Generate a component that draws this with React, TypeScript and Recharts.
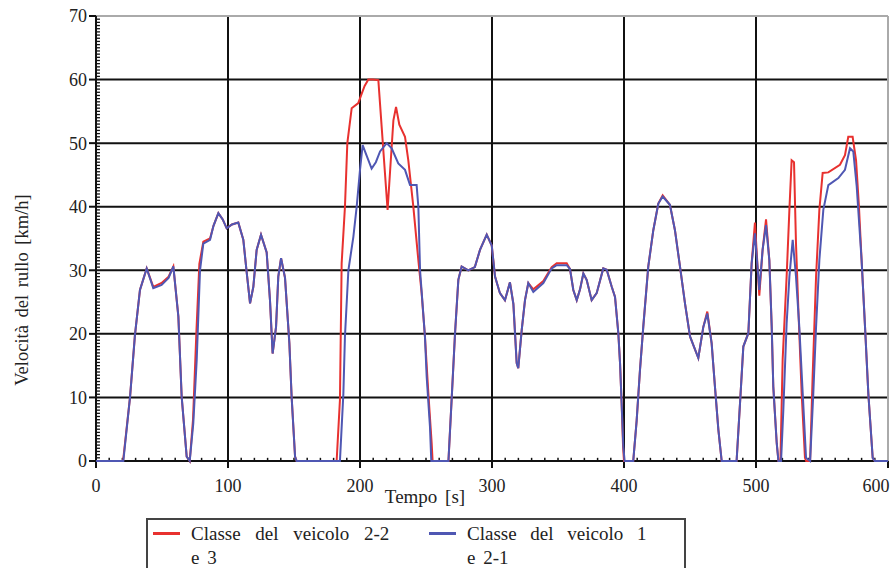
import React from "react";
import { LineChart, Line, XAxis, YAxis, CartesianGrid, ReferenceLine } from "recharts";

// Classe del veicolo 2-2 e 3 (rosso)
const tempoRosso = [
  0, 20.5, 25.8, 29.5, 33.3, 38.4, 43.4, 49.7, 55, 58.6, 62.4, 64.9, 68.7, 71,
  73.5, 76, 78.3, 81.3, 86.4, 89, 92.7, 96, 99, 103, 107.8, 111.6, 114, 116.7,
  119.2, 121.7, 125, 129.3, 131.8, 133.8, 136.4, 138.1, 140.2, 143.2, 146.5,
  148.2, 150.8, 152, 182.3, 184.8, 186.1, 188.6, 190.4, 193.7, 198.7, 201.3,
  203.5, 206.3, 210, 213.9, 216.4, 218.9, 220.9, 222.7, 225.3, 227.3, 229.8,
  234.1, 236.6, 240.4, 244.2, 246.7, 249.2, 251.8, 254.3, 255, 267, 269.4, 272,
  274.5, 277, 282, 287, 290.9, 296, 299.8, 302.3, 306, 309.8, 313.6, 316.2,
  318.7, 319.9, 322.5, 325, 327.5, 331.3, 338.9, 345.2, 349, 356.6, 359.1,
  361.6, 364.2, 366.7, 369.2, 371.7, 375.5, 379.3, 384.3, 386.9, 390.7, 393.2,
  395.7, 397, 398.2, 399.3, 400, 407, 409.6, 412.1, 414.6, 418.4, 422.2, 426,
  429.3, 434.8, 438.6, 442.4, 446.2, 450, 456.3, 460.1, 463.1, 466.4, 468.9,
  471.5, 474, 485.3, 487.9, 490.4, 494.2, 496.7, 499.2, 502.5, 505, 507.6,
  510.1, 511.9, 513.1, 515.7, 517, 518.5, 520.2, 523.2, 525.3, 527, 528.8,
  530.3, 532.1, 534.6, 537.1, 538, 541, 542.9, 545.5, 548, 550.5, 554.8, 563.6,
  567.4, 569.9, 573.2, 575.8, 578, 580, 582.6, 585.1, 588.4, 590, 600,
];
const velRosso = [
  0, 0, 10.1, 19.8, 26.9, 30.3, 27.4, 28, 29, 30.6, 22.7, 10.1, 0.7, 0, 6.5,
  20, 31, 34.5, 35, 37, 39, 38, 36.6, 37.2, 37.5, 34.8, 30, 24.8, 27.4, 33.2,
  35.6, 32.8, 25.3, 16.9, 21.1, 29, 31.9, 28.8, 18.5, 10.1, 0.7, 0, 0, 9.6,
  31.1, 40, 50, 55.5, 56.3, 57.8, 59, 60, 60, 59.9, 52.6, 45.3, 39.5, 45.3,
  53.6, 55.7, 52.9, 51, 47.3, 40, 31.6, 26.4, 19.6, 10.6, 2.8, 0, 0, 9.6, 20.1,
  28.5, 30.6, 30, 30.5, 33.2, 35.6, 33.9, 29, 26.4, 25.3, 28.1, 24.7, 15.4,
  14.6, 20.6, 25.3, 28, 27, 28.3, 30.5, 31.1, 31.1, 30.2, 26.9, 25.3, 27, 29.5,
  28.5, 25.3, 26.4, 30.3, 30.1, 27.4, 25.8, 20.1, 15.4, 9.1, 2.2, 0, 0, 6.4,
  14.3, 21.1, 30.6, 36.3, 40.5, 41.8, 40.3, 36.3, 30.6, 24.8, 19.6, 16.2, 21.1,
  23.5, 18.5, 11.7, 4.9, 0, 0, 9.1, 18, 20.1, 31.1, 37.5, 26, 33.2, 38, 31.6,
  21.1, 11.7, 2.8, 0, 0, 16, 29, 39.5, 47.3, 47, 34.2, 23.8, 10.6, 0.5, 0, 0,
  13.3, 29, 39.5, 45.3, 45.4, 46.6, 48.1, 51, 51, 47.3, 40, 31.6, 21.1, 10.6,
  0.5, 0, 0,
];

// Classe del veicolo 1 e 2-1 (blu)
const tempoBlu = [
  0, 20.7, 25.8, 29.5, 33.3, 38.4, 43.4, 49.7, 55, 58.6, 62.4, 64.9, 68.7, 71,
  73.7, 76.3, 78.8, 81.3, 86.4, 89, 92.7, 96, 99, 103, 107.8, 111.6, 114, 116.7,
  119.2, 121.7, 125, 129.3, 131.8, 133.8, 136.4, 138.1, 140.2, 143.2, 146.5,
  148.2, 150.8, 152, 184.8, 187.4, 188.6, 191.2, 195, 197.5, 200, 202, 204,
  208.8, 212, 215.2, 220.2, 224, 229, 234.1, 237.9, 242.9, 244.2, 245.5, 249.2,
  250.5, 253, 254, 267, 269.4, 272, 274.5, 277, 282, 287, 290.9, 296, 299.8,
  302.3, 306, 309.8, 313.6, 316.2, 318.7, 319.9, 322.5, 325, 327.5, 331.3,
  338.9, 345.2, 349, 356.6, 359.1, 361.6, 364.2, 366.7, 369.2, 371.7, 375.5,
  379.3, 384.3, 386.9, 390.7, 393.2, 395.7, 397, 398.2, 399.5, 400.5, 407,
  409.6, 412.1, 414.6, 418.4, 422.2, 426, 429.3, 434.8, 438.6, 442.4, 446.2,
  450, 456.3, 460.1, 463.1, 466.4, 468.9, 471.5, 474, 485.3, 487.9, 490.4,
  494.2, 496.7, 499.2, 502.5, 505, 507.6, 510.1, 511.9, 513.1, 515.7, 517, 519,
  520.7, 523.2, 525.3, 527.8, 530.3, 532.8, 535.4, 537.9, 541, 543.4, 545.5,
  548, 551, 554.8, 562.4, 567.4, 571.2, 573.7, 576.3, 580, 582.6, 585.1, 588.4,
  590, 600,
];
const velBlu = [
  0, 0, 10.1, 19.8, 26.9, 30.3, 27.2, 27.7, 28.8, 30.6, 22.7, 10.1, 0.7, 0, 5.9,
  15.9, 30, 34.2, 34.8, 37, 39, 38, 36.6, 37.2, 37.5, 34.8, 30, 24.8, 27.4,
  33.2, 35.6, 32.8, 25.3, 16.9, 21.1, 29, 31.9, 28.8, 18.5, 10.1, 0.7, 0, 0,
  10.6, 19.6, 30, 35.3, 40, 45.8, 49.7, 48.6, 46, 47, 48.7, 50, 49.2, 46.8,
  45.8, 43.4, 43.4, 40, 30, 19.6, 13.3, 5.4, 0, 0, 9.6, 20.1, 28.5, 30.6, 30,
  30.5, 33.2, 35.6, 33.9, 29, 26.4, 25.3, 28.1, 24.7, 15.4, 14.6, 20.6, 25.3,
  28, 26.6, 28, 30.3, 30.8, 30.8, 30.2, 26.9, 25.3, 27, 29.5, 28.5, 25.3, 26.4,
  30.3, 30.1, 27.4, 25.8, 20.1, 15.4, 9.1, 2.2, 0, 0, 6.4, 14.3, 21.1, 30.6,
  36.3, 40.5, 41.6, 40.3, 36.3, 30.6, 24.8, 19.6, 16.2, 21.1, 23.2, 18.5, 11.7,
  4.9, 0, 0, 9.1, 18, 20.1, 31.1, 35.8, 26.9, 33.2, 37.1, 31.6, 21.1, 11.7, 2.8,
  0, 0, 8, 21.6, 29, 34.8, 29, 21.1, 10.6, 0.5, 0, 10.6, 21.1, 31.6, 39.5, 43.4,
  44.5, 45.8, 49.2, 48.7, 43.2, 31.6, 21.1, 10.6, 0.5, 0, 0,
];

const xTicks = [0, 100, 200, 300, 400, 500, 600];
const yTicks = [0, 10, 20, 30, 40, 50, 60, 70];
const xMinor = Array.from({ length: 59 }, (_, i) => (i + 1) * 10).filter((v) => v % 100 !== 0);
const yMinor = Array.from({ length: 139 }, (_, i) => (i + 1) * 0.5).filter((v) => v % 10 !== 0);

const serieRossa = tempoRosso.map((t, i) => ({ t, v: velRosso[i] }));
const serieBlu = tempoBlu.map((t, i) => ({ t, v: velBlu[i] }));

// lunghezza delle tacche secondarie, in unità dei dati (≈4 px e ≈3 px)
const yMinorLen = 3;
const xMinorLen = 0.5;

const font = "'Liberation Serif', 'DejaVu Serif', serif";
const tickStyle = { fontFamily: font, fontSize: 18, fill: "#222" };

// l'ultima etichetta (600) è spostata a sinistra come nel grafico originale
const XTick = (props: any) => {
  const { x, y, payload } = props;
  const dx = payload.value === 600 ? -12 : 0;
  return (
    <text x={x + dx} y={y} dy="0.71em" textAnchor="middle" style={tickStyle}>
      {payload.value}
    </text>
  );
};

export default function App() {
  return (
    <div
      style={{
        position: "absolute",
        left: 0,
        top: 0,
        width: 896,
        height: 568,
        overflow: "hidden",
        background: "#fff",
        fontFamily: font,
        color: "#222",
      }}
    >
      <LineChart width={896} height={568} margin={{ top: 16, right: 8, bottom: 77, left: 0 }}>
        <CartesianGrid stroke="#111" strokeWidth={2} />
        <XAxis
          dataKey="t"
          type="number"
          domain={[0, 600]}
          ticks={xTicks}
          interval={0}
          height={30}
          tickSize={7}
          tickMargin={11}
          tick={XTick}
          axisLine={{ stroke: "#111", strokeWidth: 2 }}
          tickLine={{ stroke: "#111", strokeWidth: 2 }}
        />
        <YAxis
          type="number"
          domain={[0, 70]}
          ticks={yTicks}
          interval={0}
          width={96}
          tickSize={7}
          tickMargin={2}
          tick={tickStyle}
          axisLine={{ stroke: "#111", strokeWidth: 2 }}
          tickLine={{ stroke: "#111", strokeWidth: 2 }}
        />
        <ReferenceLine y={70} stroke="#aaa" strokeWidth={2} />
        <ReferenceLine x={600} stroke="#aaa" strokeWidth={2} />
        {/* tacche secondarie */}
        {yMinor.map((v) => (
          <ReferenceLine
            key={`ym-${v}`}
            segment={[
              { x: 0, y: v },
              { x: yMinorLen, y: v },
            ]}
            stroke="#111"
            strokeWidth={1.3}
            ifOverflow="visible"
          />
        ))}
        {xMinor.map((t) => (
          <ReferenceLine
            key={`xm-${t}`}
            segment={[
              { x: t, y: 0 },
              { x: t, y: xMinorLen },
            ]}
            stroke="#111"
            strokeWidth={1.5}
            ifOverflow="visible"
          />
        ))}
        <Line
          data={serieRossa}
          dataKey="v"
          type="linear"
          stroke="#e8312f"
          strokeWidth={2}
          dot={false}
          isAnimationActive={false}
          zIndex={600}
        />
        <Line
          data={serieBlu}
          dataKey="v"
          type="linear"
          stroke="#4f57b3"
          strokeWidth={2}
          dot={false}
          isAnimationActive={false}
          zIndex={601}
        />
      </LineChart>

      {/* titolo asse Y */}
      <div
        style={{
          position: "absolute",
          left: 22,
          top: 290,
          transform: "translate(-50%, -50%) rotate(-90deg)",
          whiteSpace: "nowrap",
          fontSize: 18.5,
          wordSpacing: 3,
        }}
      >
        Velocità del rullo [km/h]
      </div>

      {/* titolo asse X */}
      <div
        style={{
          position: "absolute",
          left: 425,
          top: 497,
          transform: "translate(-50%, -50%)",
          whiteSpace: "nowrap",
          fontSize: 19,
          wordSpacing: 3,
        }}
      >
        Tempo [s]
      </div>

      {/* legenda */}
      <div
        style={{
          position: "absolute",
          left: 146,
          top: 518,
          width: 540,
          height: 70,
          border: "2px solid #444",
          boxSizing: "border-box",
          fontSize: 19,
          lineHeight: "24px",
        }}
      >
        <div style={{ position: "absolute", left: 5, top: 12, width: 27, height: 3, background: "#e8312f" }} />
        <div style={{ position: "absolute", left: 43, top: 2, whiteSpace: "nowrap" }}>
          <span style={{ wordSpacing: 10 }}>Classe del veicolo 2-2</span>
          <br />
          <span style={{ wordSpacing: 3 }}>e 3</span>
        </div>
        <div style={{ position: "absolute", left: 281, top: 12, width: 27, height: 3, background: "#4f57b3" }} />
        <div style={{ position: "absolute", left: 319, top: 2, whiteSpace: "nowrap" }}>
          <span style={{ wordSpacing: 9 }}>Classe del veicolo 1</span>
          <br />
          <span style={{ wordSpacing: 3 }}>e 2-1</span>
        </div>
      </div>
    </div>
  );
}
